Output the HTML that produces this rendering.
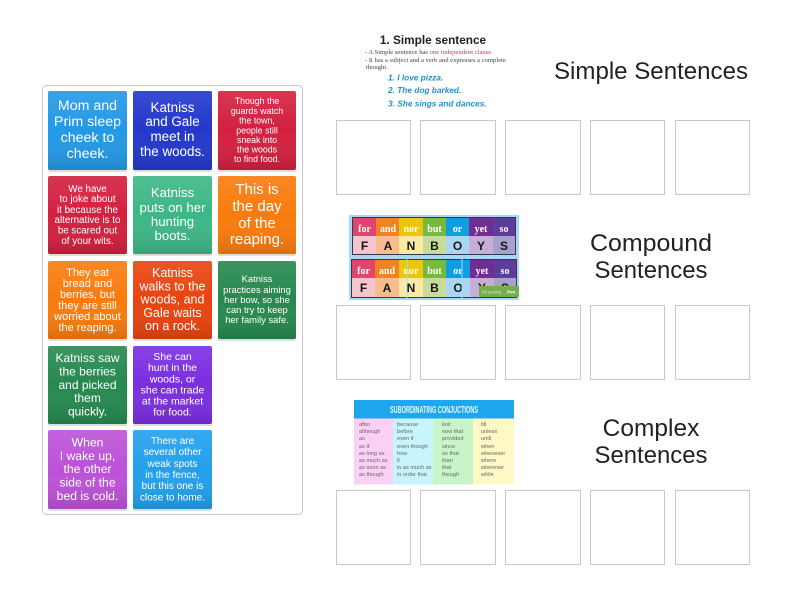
<!DOCTYPE html>
<html><head><meta charset="utf-8"><style>
html,body{margin:0;padding:0;background:#fff}
svg{display:block}
.c text{font-family:"Liberation Sans",sans-serif;fill:#fff;text-anchor:middle}
.h{font-family:"Liberation Sans",sans-serif;font-size:24.5px;fill:#222;text-anchor:middle}
.box{fill:#fff;stroke:#c8c8c8;stroke-width:1}
.b{filter:url(#bl)}
.f1 text{font-family:"Liberation Serif",serif;font-weight:bold;font-size:10px;fill:#fff;text-anchor:middle}
.f2 text{font-family:"Liberation Sans",sans-serif;font-weight:bold;font-size:12px;fill:#151515;text-anchor:middle}
.t text{font-family:"Liberation Sans",sans-serif;font-size:5.6px;fill:#666}
</style></head><body>
<svg width="800" height="600" viewBox="0 0 800 600" xmlns="http://www.w3.org/2000/svg">
<defs>
<linearGradient id="g" x1="0" y1="0" x2="0" y2="1"><stop offset="0" stop-color="#fff" stop-opacity=".1"/><stop offset=".5" stop-color="#fff" stop-opacity="0"/><stop offset="1" stop-color="#000" stop-opacity=".12"/></linearGradient>
<filter id="bl"><feGaussianBlur stdDeviation=".3"/></filter>
<filter id="bs"><feGaussianBlur stdDeviation=".2"/></filter>
</defs>
<rect x="42.5" y="85.5" width="260" height="429" rx="4" fill="#fff" stroke="#c9c9c9"/>
<g fill="#000" opacity=".13">
<rect x="48" y="92" width="79" height="80" rx="2"/><rect x="133" y="92" width="79" height="80" rx="2"/><rect x="218" y="92" width="78" height="80" rx="2"/>
<rect x="48" y="177" width="79" height="79" rx="2"/><rect x="133" y="177" width="79" height="79" rx="2"/><rect x="218" y="177" width="78" height="79" rx="2"/>
<rect x="48" y="262" width="79" height="79" rx="2"/><rect x="133" y="262" width="79" height="79" rx="2"/><rect x="218" y="262" width="78" height="79" rx="2"/>
<rect x="48" y="347" width="79" height="79" rx="2"/><rect x="133" y="347" width="79" height="79" rx="2"/>
<rect x="48" y="431" width="79" height="80" rx="2"/><rect x="133" y="431" width="79" height="80" rx="2"/>
</g>
<g>
<rect x="48" y="91" width="79" height="79" rx="2" fill="#2399e6"/><rect x="133" y="91" width="79" height="79" rx="2" fill="#2338cc"/><rect x="218" y="91" width="78" height="79" rx="2" fill="#d3203f"/>
<rect x="48" y="176" width="79" height="78" rx="2" fill="#d3203f"/><rect x="133" y="176" width="79" height="78" rx="2" fill="#3db786"/><rect x="218" y="176" width="78" height="78" rx="2" fill="#f97b0d"/>
<rect x="48" y="261" width="79" height="78" rx="2" fill="#f97b0d"/><rect x="133" y="261" width="79" height="78" rx="2" fill="#e8440f"/><rect x="218" y="261" width="78" height="78" rx="2" fill="#26894f"/>
<rect x="48" y="346" width="79" height="78" rx="2" fill="#26894f"/><rect x="133" y="346" width="79" height="78" rx="2" fill="#7a2ee0"/>
<rect x="48" y="430" width="79" height="79" rx="2" fill="#bc52d8"/><rect x="133" y="430" width="79" height="79" rx="2" fill="#22a0ec"/>
</g>
<g fill="url(#g)">
<rect x="48" y="91" width="79" height="79" rx="2"/><rect x="133" y="91" width="79" height="79" rx="2"/><rect x="218" y="91" width="78" height="79" rx="2"/>
<rect x="48" y="176" width="79" height="78" rx="2"/><rect x="133" y="176" width="79" height="78" rx="2"/><rect x="218" y="176" width="78" height="78" rx="2"/>
<rect x="48" y="261" width="79" height="78" rx="2"/><rect x="133" y="261" width="79" height="78" rx="2"/><rect x="218" y="261" width="78" height="78" rx="2"/>
<rect x="48" y="346" width="79" height="78" rx="2"/><rect x="133" y="346" width="79" height="78" rx="2"/>
<rect x="48" y="430" width="79" height="79" rx="2"/><rect x="133" y="430" width="79" height="79" rx="2"/>
</g>
<g class="c" filter="url(#bs)">
<g font-size="14.2"><text x="87.5" y="110">Mom and</text><text x="87.5" y="126">Prim sleep</text><text x="87.5" y="142">cheek to</text><text x="87.5" y="158">cheek.</text></g>
<g font-size="13.4"><text x="172.5" y="112">Katniss</text><text x="172.5" y="126">and Gale</text><text x="172.5" y="141">meet in</text><text x="172.5" y="156">the woods.</text></g>
<g font-size="8.8"><text x="257" y="104">Though the</text><text x="257" y="114">guards watch</text><text x="257" y="123.500">the town,</text><text x="257" y="133.500">people still</text><text x="257" y="143">sneak into</text><text x="257" y="152.500">the woods</text><text x="257" y="162">to find food.</text></g>
<g font-size="9.8"><text x="87.5" y="192">We have</text><text x="87.5" y="202">to joke about</text><text x="87.5" y="213">it because the</text><text x="87.5" y="223">alternative is to</text><text x="87.5" y="233.500">be scared out</text><text x="87.5" y="244">of your wits.</text></g>
<g font-size="13.2"><text x="172.5" y="197">Katniss</text><text x="172.5" y="212">puts on her</text><text x="172.5" y="226">hunting</text><text x="172.5" y="240">boots.</text></g>
<g font-size="15"><text x="257" y="194">This is</text><text x="257" y="211">the day</text><text x="257" y="228">of the</text><text x="257" y="244">reaping.</text></g>
<g font-size="11"><text x="87.5" y="276">They eat</text><text x="87.5" y="287">bread and</text><text x="87.5" y="298">berries, but</text><text x="87.5" y="309">they are still</text><text x="87.5" y="320">worried about</text><text x="87.5" y="331">the reaping.</text></g>
<g font-size="12.5"><text x="172.5" y="277">Katniss</text><text x="172.5" y="290.500">walks to the</text><text x="172.5" y="303.500">woods, and</text><text x="172.5" y="317">Gale waits</text><text x="172.5" y="330">on a rock.</text></g>
<g font-size="9.400"><text x="257" y="282">Katniss</text><text x="257" y="293">practices aiming</text><text x="257" y="303">her bow, so she</text><text x="257" y="313">can try to keep</text><text x="257" y="323">her family safe.</text></g>
<g font-size="12"><text x="87.5" y="362">Katniss saw</text><text x="87.5" y="375.500">the berries</text><text x="87.5" y="389">and picked</text><text x="87.5" y="402">them</text><text x="87.5" y="415.500">quickly.</text></g>
<g font-size="10.500"><text x="172.5" y="360">She can</text><text x="172.5" y="371">hunt in the</text><text x="172.5" y="382.500">woods, or</text><text x="172.5" y="393.500">she can trade</text><text x="172.5" y="404.500">at the market</text><text x="172.5" y="415.500">for food.</text></g>
<g font-size="12.2"><text x="87.5" y="446.500">When</text><text x="87.5" y="460">I wake up,</text><text x="87.5" y="473">the other</text><text x="87.5" y="486.500">side of the</text><text x="87.5" y="500">bed is cold.</text></g>
<g font-size="10"><text x="172.5" y="444">There are</text><text x="172.5" y="455">several other</text><text x="172.5" y="467">weak spots</text><text x="172.5" y="478">in the fence,</text><text x="172.5" y="489">but this one is</text><text x="172.5" y="500.500">close to home.</text></g>
</g>
<text class="h" x="651" y="79" textLength="194" lengthAdjust="spacingAndGlyphs">Simple Sentences</text>
<text class="h" x="651" y="251" textLength="122" lengthAdjust="spacingAndGlyphs">Compound</text><text class="h" x="651" y="278" textLength="113" lengthAdjust="spacingAndGlyphs">Sentences</text>
<text class="h" x="651" y="436">Complex</text><text class="h" x="651" y="463" textLength="113" lengthAdjust="spacingAndGlyphs">Sentences</text>
<g class="box">
<rect x="336.500" y="120.500" width="74" height="74"/><rect x="420.500" y="120.500" width="75" height="74"/><rect x="505.500" y="120.500" width="75" height="74"/><rect x="590.500" y="120.500" width="74" height="74"/><rect x="675.500" y="120.500" width="74" height="74"/>
<rect x="336.500" y="305.500" width="74" height="74"/><rect x="420.500" y="305.500" width="75" height="74"/><rect x="505.500" y="305.500" width="75" height="74"/><rect x="590.500" y="305.500" width="74" height="74"/><rect x="675.500" y="305.500" width="74" height="74"/>
<rect x="336.500" y="490.500" width="74" height="74"/><rect x="420.500" y="490.500" width="75" height="74"/><rect x="505.500" y="490.500" width="75" height="74"/><rect x="590.500" y="490.500" width="74" height="74"/><rect x="675.500" y="490.500" width="74" height="74"/>
</g>
<g class="b">
<text x="433" y="44" font-family="Liberation Sans,sans-serif" font-weight="bold" font-size="11.800" fill="#222" text-anchor="middle">1. Simple sentence</text>
<g font-family="Liberation Serif,serif" font-size="6.600" fill="#444"><text x="365" y="54">- A Simple sentence has <tspan fill="#c2386e">one independent clause.</tspan></text><text x="365" y="62">- It has a subject and a verb and expresses a complete</text><text x="366" y="69">thought.</text></g>
<g font-family="Liberation Sans,sans-serif" font-weight="bold" font-style="italic" font-size="8.300" fill="#2391d2"><text x="388" y="80.500">1. I love pizza.</text><text x="388" y="93">2. The dog barked.</text><text x="388" y="106.500">3. She sings and dances.</text></g>
</g>
<g class="b">
<rect x="349" y="215" width="170" height="85" fill="#a9d6f5"/>
<rect x="352" y="217" width="164" height="38" fill="#33384f"/>
<g><rect x="353" y="218" width="23" height="18" fill="#e0446d"/><rect x="376" y="218" width="23" height="18" fill="#ef8220"/><rect x="399" y="218" width="24" height="18" fill="#eec508"/><rect x="423" y="218" width="23" height="18" fill="#77b83c"/><rect x="446" y="218" width="23" height="18" fill="#0f9fe0"/><rect x="469" y="218" width="24" height="18" fill="#6f2f93"/><rect x="493" y="218" width="22" height="18" fill="#5d3d9c"/></g>
<g><rect x="353" y="236" width="23" height="18" fill="#f5c5cd"/><rect x="376" y="236" width="23" height="18" fill="#f7bd8e"/><rect x="399" y="236" width="24" height="18" fill="#fbe9a6"/><rect x="423" y="236" width="23" height="18" fill="#c7dc9a"/><rect x="446" y="236" width="23" height="18" fill="#aad6f2"/><rect x="469" y="236" width="24" height="18" fill="#c7aed8"/><rect x="493" y="236" width="22" height="18" fill="#a8a0cf"/></g>
<g class="f1"><text x="364.500" y="232">for</text><text x="388" y="232">and</text><text x="411" y="232">nor</text><text x="434.500" y="232">but</text><text x="457.500" y="232">or</text><text x="481" y="232">yet</text><text x="504" y="232">so</text></g>
<g class="f2"><text x="364.500" y="250">F</text><text x="388" y="250">A</text><text x="411" y="250">N</text><text x="434.500" y="250">B</text><text x="457.500" y="250">O</text><text x="481" y="250">Y</text><text x="504" y="250">S</text></g>
<rect x="351" y="259" width="166" height="39" fill="#33384f"/>
<g><rect x="352" y="260" width="23" height="18" fill="#e0446d"/><rect x="375" y="260" width="24" height="18" fill="#ef8220"/><rect x="399" y="260" width="24" height="18" fill="#eec508"/><rect x="423" y="260" width="23" height="18" fill="#77b83c"/><rect x="446" y="260" width="24" height="18" fill="#0f9fe0"/><rect x="470" y="260" width="24" height="18" fill="#6f2f93"/><rect x="494" y="260" width="22" height="18" fill="#5d3d9c"/></g>
<g><rect x="352" y="278" width="23" height="19" fill="#f5c5cd"/><rect x="375" y="278" width="24" height="19" fill="#f7bd8e"/><rect x="399" y="278" width="24" height="19" fill="#fbe9a6"/><rect x="423" y="278" width="23" height="19" fill="#c7dc9a"/><rect x="446" y="278" width="24" height="19" fill="#aad6f2"/><rect x="470" y="278" width="24" height="19" fill="#c7aed8"/><rect x="494" y="278" width="22" height="19" fill="#a8a0cf"/></g>
<g class="f1"><text x="363.500" y="274">for</text><text x="387" y="274">and</text><text x="411" y="274">nor</text><text x="434.500" y="274">but</text><text x="458" y="274">or</text><text x="482" y="274">yet</text><text x="505" y="274">so</text></g>
<g class="f2"><text x="363.500" y="292">F</text><text x="387" y="292">A</text><text x="411" y="292">N</text><text x="434.500" y="292">B</text><text x="458" y="292">O</text><text x="482" y="292">Y</text><text x="505" y="292">S</text></g>
<rect x="406.500" y="257" width="1" height="41" fill="#a9d6f5"/><rect x="461.500" y="257" width="1" height="41" fill="#a9d6f5"/>
<rect x="479" y="286" width="40" height="11" rx="1" fill="#76ad4e"/>
<text x="482" y="293.500" font-family="Liberation Sans,sans-serif" font-size="4.500" fill="#cfe3bd">hit saving</text>
<text x="507" y="293.500" font-family="Liberation Sans,sans-serif" font-size="4.500" font-weight="bold" fill="#fff">Pen</text>
</g>
<g class="b">
<rect x="354" y="400" width="160" height="18.500" fill="#1ea7ef"/>
<rect x="354" y="418.500" width="39" height="66" fill="#fbd0f5"/><rect x="393" y="418.500" width="40" height="66" fill="#c8f5fb"/><rect x="433" y="418.500" width="40" height="66" fill="#c8f5c8"/><rect x="473" y="418.500" width="41" height="66" fill="#fdf8c4"/>
<text x="434" y="413" font-family="Liberation Sans,sans-serif" font-weight="bold" font-size="10" fill="#e8f8ff" text-anchor="middle" textLength="88" lengthAdjust="spacingAndGlyphs">SUBORDINATING CONJUCTIONS</text>
<g class="t">
<text x="359" y="426">after</text><text x="359" y="433">although</text><text x="359" y="440">as</text><text x="359" y="448">as if</text><text x="359" y="455">as long as</text><text x="359" y="462">as much as</text><text x="359" y="469">as soon as</text><text x="359" y="476">as though</text>
<text x="397" y="426">because</text><text x="397" y="433">before</text><text x="397" y="440">even if</text><text x="397" y="448">even though</text><text x="397" y="455">how</text><text x="397" y="462">if</text><text x="397" y="469">in as much as</text><text x="397" y="476">in order that</text>
<text x="442" y="426">lest</text><text x="442" y="433">now that</text><text x="442" y="440">provided</text><text x="442" y="448">since</text><text x="442" y="455">so that</text><text x="442" y="462">than</text><text x="442" y="469">that</text><text x="442" y="476">though</text>
<text x="481" y="426">till</text><text x="481" y="433">unless</text><text x="481" y="440">until</text><text x="481" y="448">when</text><text x="481" y="455">whenever</text><text x="481" y="462">where</text><text x="481" y="469">wherever</text><text x="481" y="476">while</text>
</g>
</g>
</svg>
</body></html>
